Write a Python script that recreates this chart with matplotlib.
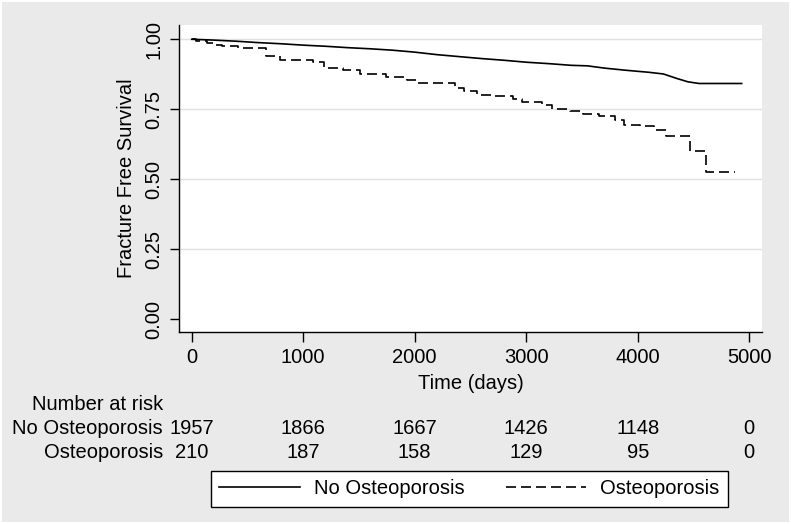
import numpy as np
import matplotlib
matplotlib.use("Agg")
from matplotlib import pyplot as plt
from matplotlib import transforms
from matplotlib.patches import Rectangle

plt.rcParams['font.family'] = ['Liberation Sans', 'DejaVu Sans']

# Kaplan-Meier estimates
t_no = [0, 200, 400, 600, 800, 1000, 1200, 1400, 1600, 1800, 2000, 2200, 2400,
        2600, 2800, 3000, 3200, 3400, 3550, 3700, 3900, 4100, 4230, 4350, 4450,
        4550, 4932]
s_no = [1.000, 0.997, 0.993, 0.988, 0.984, 0.979, 0.975, 0.970, 0.966, 0.961,
        0.954, 0.945, 0.938, 0.931, 0.925, 0.918, 0.913, 0.907, 0.905, 0.897,
        0.889, 0.882, 0.876, 0.860, 0.848, 0.842, 0.842]

t_ost = [0, 40, 135, 190, 270, 415, 670, 790, 1090, 1190, 1360, 1510, 1740,
         1930, 2020, 2160, 2360, 2440, 2560, 2700, 2880, 2960, 3140, 3230, 3390,
         3510, 3650, 3800, 3880, 4020, 4150, 4250, 4470, 4615, 4870]
s_ost = [1.000, 0.993, 0.988, 0.981, 0.977, 0.970, 0.940, 0.925, 0.919, 0.898,
         0.891, 0.877, 0.866, 0.855, 0.845, 0.842, 0.827, 0.815, 0.800, 0.796,
         0.788, 0.776, 0.764, 0.752, 0.744, 0.732, 0.726, 0.711, 0.693, 0.689,
         0.675, 0.654, 0.601, 0.525, 0.525]

# number at risk table
risk_times = [0, 1000, 2000, 3000, 4000, 5000]
risk_no = [1957, 1866, 1667, 1426, 1148, 0]
risk_ost = [210, 187, 158, 129, 95, 0]

x_ticks = [0, 1000, 2000, 3000, 4000, 5000]
y_ticks = [0.00, 0.25, 0.50, 0.75, 1.00]

W, H = 791, 524
FS = 14.5
bg = '#eaeaea'

fig = plt.figure(figsize=(W / 100, H / 100), dpi=100)
fig.patch.set_facecolor('white')
fig.patches.append(Rectangle((2 / W, 2 / H), 1 - 4 / W, 1 - 4 / H,
                             transform=fig.transFigure, facecolor=bg,
                             edgecolor='none', zorder=-10))

ax = fig.add_axes([179 / W, 1 - 331.7 / H, (762.3 - 179) / W, (331.7 - 25) / H])
ax.set_facecolor('white')

ax.plot(t_no, s_no, color='black', lw=1.2, label='No Osteoporosis')
ax.plot(t_ost, s_ost, color='black', lw=1.2, drawstyle='steps-post',
        linestyle=(0, (6, 3)), label='Osteoporosis')

ax.set_xlim(-114, 5117)
ax.set_ylim(-0.045, 1.051)
ax.set_xticks(x_ticks)
ax.set_yticks(y_ticks)
ax.set_yticklabels(['%.2f' % v for v in y_ticks], rotation=90, va='center')
for v in y_ticks[1:]:
    ax.axhline(v, color='#e0e0e0', lw=1.0, zorder=0)

for side in ['top', 'right']:
    ax.spines[side].set_visible(False)
for side in ['left', 'bottom']:
    ax.spines[side].set_linewidth(1.0)
ax.tick_params(axis='x', length=7, width=1.0, labelsize=FS, pad=5)
ax.tick_params(axis='y', length=6.5, width=1.0, labelsize=FS, pad=5)

ax.set_xlabel('Time (days)', fontsize=FS, labelpad=5)
ax.set_ylabel('Fracture Free Survival', fontsize=FS, labelpad=6)

# number at risk
trans = transforms.blended_transform_factory(ax.transData, fig.transFigure)
fig.text(163 / W, 1 - 405 / H, 'Number at risk', ha='right', va='center', fontsize=FS)
fig.text(163 / W, 1 - 428 / H, 'No Osteoporosis', ha='right', va='center', fontsize=FS)
fig.text(163 / W, 1 - 452 / H, 'Osteoporosis', ha='right', va='center', fontsize=FS)
for t, n1, n2 in zip(risk_times, risk_no, risk_ost):
    ax.text(t, 1 - 428 / H, str(n1), transform=trans, ha='center', va='center',
            fontsize=FS, clip_on=False)
    ax.text(t, 1 - 452 / H, str(n2), transform=trans, ha='center', va='center',
            fontsize=FS, clip_on=False)

leg = fig.legend(loc='center', bbox_to_anchor=(469.5 / W, 1 - 489 / H), ncol=2,
                 fontsize=FS, frameon=True, fancybox=False, handlelength=4.0,
                 handletextpad=0.7, columnspacing=2.05, borderpad=0.42,
                 borderaxespad=0)
leg.get_frame().set_edgecolor('black')
leg.get_frame().set_linewidth(1.0)
leg.get_frame().set_facecolor('white')
leg.get_frame().set_alpha(1)

fig.savefig('out.png', dpi=100, facecolor=fig.get_facecolor())
